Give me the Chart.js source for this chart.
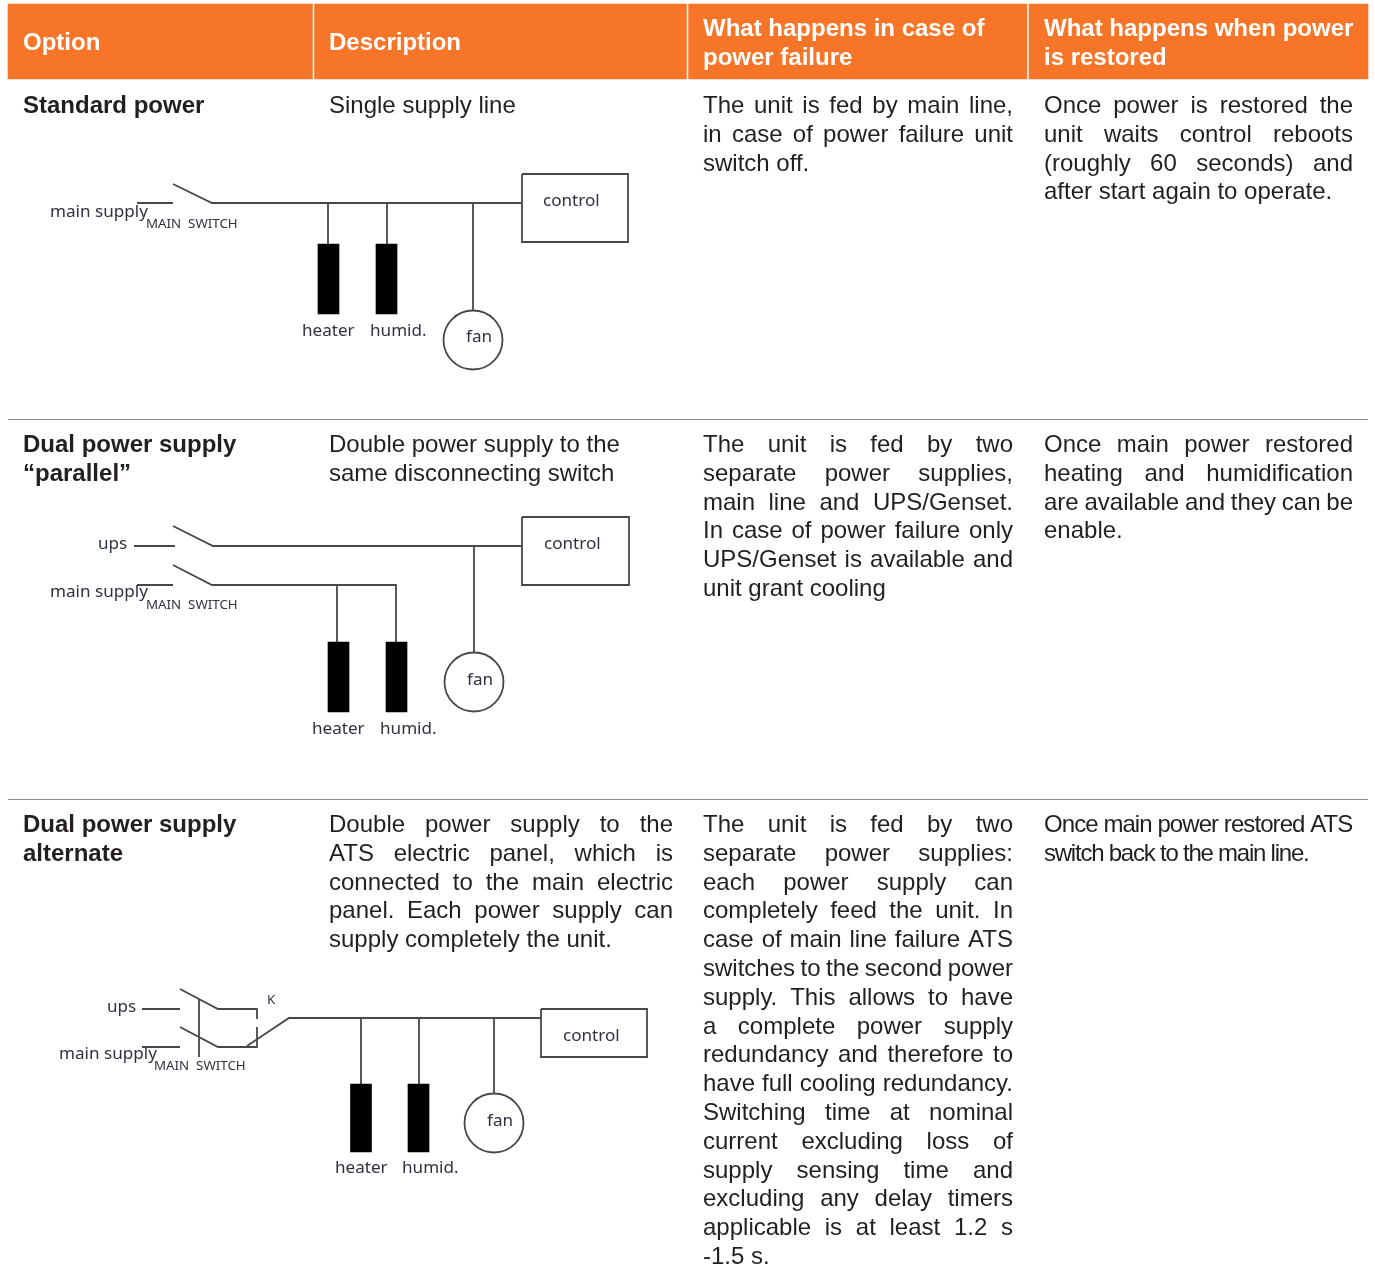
<!DOCTYPE html>
<html>
<head>
<meta charset="utf-8">
<title>Power supply options</title>
<script src="https://cdn.jsdelivr.net/npm/chart.js@4"></script>
<style>
    html, body { margin: 0; padding: 0; background: #fff; }
    canvas { display: block; }
</style>
</head>
<body>
<canvas id="chart" width="1375" height="1265"></canvas>
<script>
// Table text
const headerOption = ['Option'];
const headerDescription = ['Description'];
const headerFailure = ['What happens in case of', 'power failure'];
const headerRestored = ['What happens when power', 'is restored'];

const option1 = ['Standard power'];
const description1 = ['Single supply line'];
const failure1 = ['The unit is fed by main line,', 'in case of power failure unit', 'switch off.'];
const restored1 = ['Once power is restored the', 'unit waits control reboots', '(roughly 60 seconds) and', 'after start again to operate.'];

const option2 = ['Dual power supply', '“parallel”'];
const description2 = ['Double power supply to the', 'same disconnecting switch'];
const failure2 = ['The unit is fed by two', 'separate power supplies,', 'main line and UPS/Genset.', 'In case of power failure only', 'UPS/Genset is available and', 'unit grant cooling'];
const restored2 = ['Once main power restored', 'heating and humidification', 'are available and they can be', 'enable.'];

const option3 = ['Dual power supply', 'alternate'];
const description3 = ['Double power supply to the', 'ATS electric panel, which is', 'connected to the main electric', 'panel. Each power supply can', 'supply completely the unit.'];
const failure3 = ['The unit is fed by two', 'separate power supplies:', 'each power supply can', 'completely feed the unit. In', 'case of main line failure ATS', 'switches to the second power', 'supply. This allows to have', 'a complete power supply', 'redundancy and therefore to', 'have full cooling redundancy.', 'Switching time at nominal', 'current excluding loss of', 'supply sensing time and', 'excluding any delay timers', 'applicable is at least 1.2 s', '-1.5 s.'];
const restored3 = ['Once main power restored ATS', 'switch back to the main line.'];

// Table frame
const headerBand = [{ x: 688, y: [4, 79] }];
const headerDividers = [313.5, 687.5, 1028];
const rowRules = [419.5, 799.5];

// Diagram 1: single supply
const wires1 = [
    [[137, 203], [173, 203]],
    [[173, 184], [212, 203], [521, 203]],
    [[328, 203], [328, 244]],
    [[387, 203], [387, 244]],
    [[473, 203], [473, 310]],
    [[522, 174], [628, 174], [628, 242], [522, 242], [522, 174]]
];
const loads1 = [{ x: 328.5, y: [244, 314] }, { x: 386.5, y: [244, 314] }];
const fan1 = [[473, 340]];
const labels1 = [
    ['main supply', 50, 217], ['control', 543, 206], ['heater', 302, 336], ['humid.', 370, 336], ['fan', 466, 342]
];
const switchLabels1 = [['MAIN  SWITCH', 146, 228]];

// Diagram 2: parallel
const wires2 = [
    [[134, 546], [175, 546]],
    [[173, 526], [213, 546], [522, 546]],
    [[416, 545], [416, 546]],
    [[137, 585], [173, 585]],
    [[173, 565], [212, 585], [396, 585], [396, 642]],
    [[337, 585], [337, 642]],
    [[474, 546], [474, 653]],
    [[522, 517], [629, 517], [629, 585], [522, 585], [522, 517]]
];
const loads2 = [{ x: 338.5, y: [642, 712] }, { x: 396.5, y: [642, 712] }];
const fan2 = [[474, 682]];
const labels2 = [
    ['ups', 98, 549], ['main supply', 50, 597], ['control', 544, 549], ['heater', 312, 734], ['humid.', 380, 734], ['fan', 467, 685]
];
const switchLabels2 = [['MAIN  SWITCH', 146, 609]];

// Diagram 3: alternate with ATS
const wires3 = [
    [[142, 1009], [180, 1009]],
    [[180, 989], [218, 1009], [257, 1009], [257, 1019]],
    [[142, 1047], [180, 1047]],
    [[180, 1027], [218, 1047], [257, 1047], [257, 1027]],
    [[199, 999], [199, 1057]],
    [[247, 1046], [289, 1018], [541, 1018]],
    [[361, 1018], [361, 1084]],
    [[419, 1018], [419, 1084]],
    [[494, 1018], [494, 1094]],
    [[541, 1009], [647, 1009], [647, 1057], [541, 1057], [541, 1009]]
];
const loads3 = [{ x: 361, y: [1084, 1152] }, { x: 418.5, y: [1084, 1152] }];
const fan3 = [[494, 1123]];
const labels3 = [
    ['ups', 107, 1012], ['main supply', 59, 1059], ['control', 563, 1041], ['heater', 335, 1173], ['humid.', 402, 1173], ['fan', 487, 1126]
];
const switchLabels3 = [['MAIN  SWITCH', 154, 1070], ['K', 267, 1004]];

const ORANGE = '#f77528';
const INK = '#231f20';
const WIRE = '#484848';
const BODY_FONT = '24px "Liberation Sans"';
const BOLD_FONT = 'bold 24px "Liberation Sans"';
const LABEL_FONT = '17.1px "Noto Sans"';
const SWITCH_FONT = '13.3px "Noto Sans"';
const LINE_STEP = 28.8;

// x, right edge for justified lines, first baseline
const textBlocks = [
    { lines: headerOption, x: 23, top: 50, font: BOLD_FONT, color: '#fff' },
    { lines: headerDescription, x: 329, top: 50, font: BOLD_FONT, color: '#fff' },
    { lines: headerFailure, x: 703, top: 36, font: BOLD_FONT, color: '#fff' },
    { lines: headerRestored, x: 1044, top: 36, font: BOLD_FONT, color: '#fff' },
    { lines: option1, x: 23, top: 113, font: BOLD_FONT },
    { lines: description1, x: 329, top: 113 },
    { lines: failure1, x: 703, right: 1013, top: 113 },
    { lines: restored1, x: 1044, right: 1353, top: 113 },
    { lines: option2, x: 23, top: 452, font: BOLD_FONT },
    { lines: description2, x: 329, top: 452 },
    { lines: failure2, x: 703, right: 1013, top: 452 },
    { lines: restored2, x: 1044, right: 1353, top: 452 },
    { lines: option3, x: 23, top: 832, font: BOLD_FONT },
    { lines: description3, x: 329, right: 673, top: 832 },
    { lines: failure3, x: 703, right: 1013, top: 832 },
    { lines: restored3, x: 1044, top: 832, tracking: ['-0.93px', '-1.23px'] }
];

const wireSets = [wires1, wires2, wires3];
const loadSets = [loads1, loads2, loads3];
const fanSets = [fan1, fan2, fan3];
const labelSets = [labels1, labels2, labels3];
const switchLabelSets = [switchLabels1, switchLabels2, switchLabels3];

const datasets = [];

datasets.push({
    type: 'bar', data: headerBand, backgroundColor: ORANGE, barThickness: 1360, grouped: false, order: 10
});
headerDividers.forEach(x => {
    datasets.push({ data: [[x, 4], [x, 79]], showLine: true, borderColor: '#fff', borderWidth: 1.5, pointRadius: 0, order: 5 });
});
rowRules.forEach(y => {
    datasets.push({ data: [[8, y], [1368, y]], showLine: true, borderColor: '#8f8f8f', borderWidth: 1, pointRadius: 0, order: 5 });
});
wireSets.forEach(wires => wires.forEach(wire => {
    datasets.push({ data: wire, showLine: true, borderColor: WIRE, borderWidth: 1.8, pointRadius: 0, tension: 0, order: 4 });
}));
loadSets.forEach(loads => {
    datasets.push({ type: 'bar', data: loads, backgroundColor: '#000', barThickness: 21, grouped: false, order: 3 });
});
fanSets.forEach(fan => {
    datasets.push({ data: fan, pointRadius: 29.5, pointBackgroundColor: '#fff', pointBorderColor: WIRE, pointBorderWidth: 1.8, order: 2 });
});

// Text is painted after the datasets, one line at a time
const tablePrint = {
    id: 'tablePrint',
    afterDatasetsDraw(chart) {
        const ctx = chart.ctx;
        const xs = chart.scales.x;
        const ys = chart.scales.y;
        ctx.save();
        ctx.textBaseline = 'alphabetic';
        textBlocks.forEach(block => {
            ctx.font = block.font || BODY_FONT;
            ctx.fillStyle = block.color || INK;
            block.lines.forEach((line, i) => {
                ctx.letterSpacing = block.tracking ? block.tracking[i] : '0px';
                ctx.wordSpacing = '0px';
                if (block.right && i < block.lines.length - 1) {
                    const gaps = line.split(' ').length - 1;
                    const extra = block.right - block.x - ctx.measureText(line).width;
                    ctx.wordSpacing = (extra / gaps) + 'px';
                }
                ctx.fillText(line, xs.getPixelForValue(block.x), ys.getPixelForValue(block.top + i * LINE_STEP));
            });
        });
        ctx.letterSpacing = '0px';
        ctx.wordSpacing = '0px';
        ctx.fillStyle = '#2f3340';
        ctx.font = LABEL_FONT;
        labelSets.forEach(labels => labels.forEach(([text, x, y]) => {
            ctx.fillText(text, xs.getPixelForValue(x), ys.getPixelForValue(y));
        }));
        ctx.font = SWITCH_FONT;
        switchLabelSets.forEach(labels => labels.forEach(([text, x, y]) => {
            ctx.fillText(text, xs.getPixelForValue(x), ys.getPixelForValue(y));
        }));
        ctx.restore();
    }
};

new Chart(document.getElementById('chart'), {
    type: 'scatter',
    data: { datasets },
    plugins: [tablePrint],
    options: {
        responsive: false,
        animation: false,
        layout: { padding: 0, autoPadding: false },
        plugins: { legend: { display: false }, tooltip: { enabled: false }, title: { display: false } },
        scales: {
            x: { type: 'linear', min: 0, max: 1375, display: false, offset: false },
            y: { type: 'linear', min: 0, max: 1265, reverse: true, display: false }
        }
    }
});
</script>
</body>
</html>
